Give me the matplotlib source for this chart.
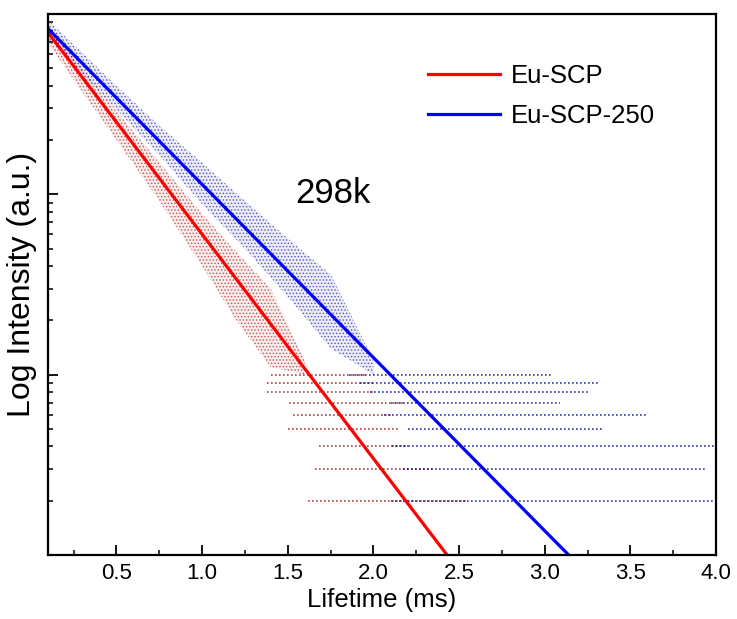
import matplotlib
matplotlib.use("Agg")
from matplotlib import pyplot as plt
from matplotlib.ticker import LogLocator, NullFormatter, MultipleLocator

plt.rcParams['font.family'] = ['Liberation Sans', 'DejaVu Sans']
plt.rcParams['hatch.linewidth'] = 0.7

# fitted decays: (start time, start counts) -> (end time, end counts)
red_fit_t = [0.1, 2.43]
red_fit_y = [790, 1.0]
blue_fit_t = [0.1, 3.14]
blue_fit_y = [830, 1.0]

red_band_t = [0.1, 0.3, 0.5, 0.75, 1.0, 1.2, 1.4, 1.6]
red_band_lo = [690, 370, 200, 92, 40, 20, 11, 10]
red_band_hi = [860, 500, 290, 150, 78, 48, 30, 12]
blue_band_t = [0.1, 0.3, 0.5, 0.75, 1.0, 1.25, 1.5, 1.75, 2.0]
blue_band_lo = [740, 470, 295, 165, 88, 50, 27, 14, 10]
blue_band_hi = [930, 610, 400, 240, 150, 92, 57, 36, 12]

# low-count tail: count level, first and last time where points sit
red_levels = [1, 2, 3, 4, 5, 6, 7, 8, 9, 10]
red_lv_start = [1.85, 1.62, 1.66, 1.68, 1.50, 1.53, 1.51, 1.38, 1.38, 1.40]
red_lv_end = [2.60, 2.55, 2.35, 2.20, 2.15, 2.10, 2.17, 2.00, 2.00, 1.95]
blue_levels = [1, 2, 3, 4, 5, 6, 7, 8, 9, 10]
blue_lv_start = [2.60, 2.10, 2.17, 2.11, 2.20, 2.06, 2.10, 1.98, 1.92, 1.86]
blue_lv_end = [4.00, 4.00, 3.94, 4.00, 3.34, 3.60, 3.09, 3.25, 3.31, 3.04]

fig = plt.figure(figsize=(7.37, 6.19), dpi=100)
ax = fig.add_axes([0.0651, 0.1034, 0.9064, 0.874])

dot_red = '#a00000'
dot_blue = '#000090'

for t, lo, hi, c in [(red_band_t, red_band_lo, red_band_hi, dot_red),
                     (blue_band_t, blue_band_lo, blue_band_hi, dot_blue)]:
    ax.fill_between(t, lo, hi, facecolor=c, alpha=0.07, linewidth=0)
    ax.fill_between(t, lo, hi, facecolor='none', edgecolor=c, hatch='.....',
                    linewidth=0, alpha=0.55)

ax.hlines(red_levels, red_lv_start, red_lv_end, colors=dot_red,
          linestyles=(0, (1, 1.4)), linewidth=1.2, alpha=0.75)
ax.hlines(blue_levels, blue_lv_start, blue_lv_end, colors=dot_blue,
          linestyles=(0, (1, 1.4)), linewidth=1.2, alpha=0.8)

ax.plot(red_fit_t, red_fit_y, color='#ff0000', lw=2.3, label='Eu-SCP')
ax.plot(blue_fit_t, blue_fit_y, color='#0000ff', lw=2.3, label='Eu-SCP-250')

ax.set_yscale('log')
ax.set_ylim(1, 1000)
ax.set_xlim(0.1, 4.0)
ax.xaxis.set_major_locator(MultipleLocator(0.5))
ax.xaxis.set_minor_locator(MultipleLocator(0.25))
ax.yaxis.set_major_locator(LogLocator(base=10))
ax.yaxis.set_minor_locator(LogLocator(base=10, subs=range(2, 10)))
ax.yaxis.set_major_formatter(NullFormatter())
ax.yaxis.set_minor_formatter(NullFormatter())
ax.set_xticks([0.5, 1.0, 1.5, 2.0, 2.5, 3.0, 3.5, 4.0])
ax.set_xticklabels(['0.5', '1.0', '1.5', '2.0', '2.5', '3.0', '3.5', '4.0'])

ax.tick_params(which='major', direction='in', length=7, width=1.3, labelsize=16, pad=6)
ax.tick_params(which='minor', direction='in', length=3.6, width=1.1)
for s in ax.spines.values():
    s.set_linewidth(1.6)

ax.set_xlabel('Lifetime (ms)', fontsize=18.5, labelpad=3)
ax.set_ylabel('Log Intensity (a.u.)', fontsize=23, labelpad=2)

ax.text(0.427, 0.669, '298k', transform=ax.transAxes, fontsize=25,
        ha='center', va='center')

ax.legend(loc='upper left', bbox_to_anchor=(0.55, 0.932), frameon=False,
          fontsize=18.5, handlelength=2.8, handletextpad=0.4, labelspacing=0.62,
          borderpad=0)

plt.savefig('out.png', dpi=100)
